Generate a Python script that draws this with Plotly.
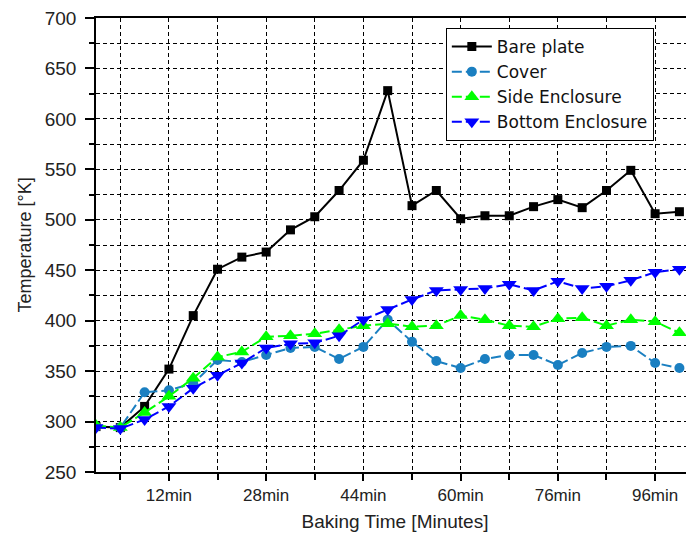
import plotly.graph_objects as go

# Baking time points (minutes)
time_min = [0, 4, 8, 12, 16, 20, 24, 28, 32, 36, 40, 44, 48, 52, 56, 60,
            64, 68, 72, 76, 80, 84, 88, 92, 96]

bare_plate = [295, 294, 315, 352, 405, 451, 463, 468, 490, 503, 529, 559, 628,
              514, 529, 501, 504, 504, 513, 520, 512, 529, 549, 506, 508]
cover = [295, 294, 329, 331, 338, 361, 359, 366, 373, 374, 362, 374, 401,
         379, 360, 353, 362, 366, 366, 356, 368, 374, 375, 358, 353]
side_enclosure = [296, 294, 309, 325, 343, 364, 369, 384, 385, 387, 391, 395, 397,
                  394, 395, 405, 401, 395, 394, 402, 403, 395, 401, 399, 388]
bottom_enclosure = [294, 293, 302, 315, 333, 346, 358, 373, 377, 378, 385, 401, 411,
                    421, 430, 431, 432, 436, 430, 439, 432, 434, 440, 448, 451]

tick_vals = [12, 28, 44, 60, 76, 92]
tick_text = ["12min", "28min", "44min", "60min", "76min", "96min"]

FONT = "Liberation Sans, Arial, sans-serif"
TXT = "#222222"

series = [
    ("Bare plate", bare_plate, "#000000", "square", 9, "solid"),
    ("Cover", cover, "#1a7fc1", "circle", 10, "10px,4px"),
    ("Side Enclosure", side_enclosure, "#00ff00", "triangle-up", 13, "10px,4px"),
    ("Bottom Enclosure", bottom_enclosure, "#0000ff", "triangle-down", 13, "10px,4px"),
]

fig = go.Figure()
for name, vals, color, sym, size, dash in series:
    fig.add_trace(go.Scatter(
        x=time_min, y=vals, name=name, mode="lines+markers",
        line=dict(color=color, width=2, dash=dash),
        marker=dict(symbol=sym, size=size, color=color),
    ))

grid = dict(gridcolor="#000000", gridwidth=1, griddash="4px,3px")

# The page body adds an 8px offset, so the figure is sized to the visible area.
fig.update_layout(
    width=686, height=529,
    margin=dict(l=88, r=0, t=10, b=65),
    paper_bgcolor="white", plot_bgcolor="white",
    font=dict(family=FONT, color=TXT),
    showlegend=True,
    legend=dict(
        x=0.585, y=0.978, xanchor="left", yanchor="top",
        bgcolor="white", bordercolor="#000000", borderwidth=1,
        font=dict(size=17, family="DejaVu Sans, Liberation Sans, sans-serif", color="#111111"),
        itemwidth=40, tracegroupgap=0,
    ),
    xaxis=dict(
        automargin=False,
        range=[0, 98.4], tickmode="array", tickvals=tick_vals, ticktext=tick_text,
        ticks="outside", ticklen=7, tickwidth=1.5, tickcolor="#000000",
        ticklabelstandoff=0, ticklabeloverflow="allow",
        showline=True, linecolor="#000000", linewidth=1.5, mirror=True,
        showgrid=True, **grid, zeroline=False,
        tickfont=dict(size=17, family=FONT, color=TXT),
        title=dict(text="Baking Time [Minutes]", font=dict(size=19, family=FONT, color=TXT), standoff=11),
        minor=dict(tick0=4, dtick=8, ticks="outside", ticklen=6, tickwidth=1.5,
                   tickcolor="#000000", showgrid=True, **grid),
    ),
    yaxis=dict(
        automargin=False,
        range=[250, 700], dtick=50, tick0=250,
        ticks="outside", ticklen=9, tickwidth=1.5, tickcolor="#000000",
        ticklabelstandoff=5, ticklabeloverflow="allow",
        showline=True, linecolor="#000000", linewidth=1.5, mirror=False,
        showgrid=True, **grid, zeroline=False,
        tickfont=dict(size=19, family=FONT, color=TXT),
        title=dict(text="Temperature [°K]", font=dict(size=18, family=FONT, color=TXT), standoff=8),
        minor=dict(dtick=25, ticks="outside", ticklen=5, tickwidth=1.5,
                   tickcolor="#000000", showgrid=True, **grid),
    ),
)

fig.write_html("out.html")
